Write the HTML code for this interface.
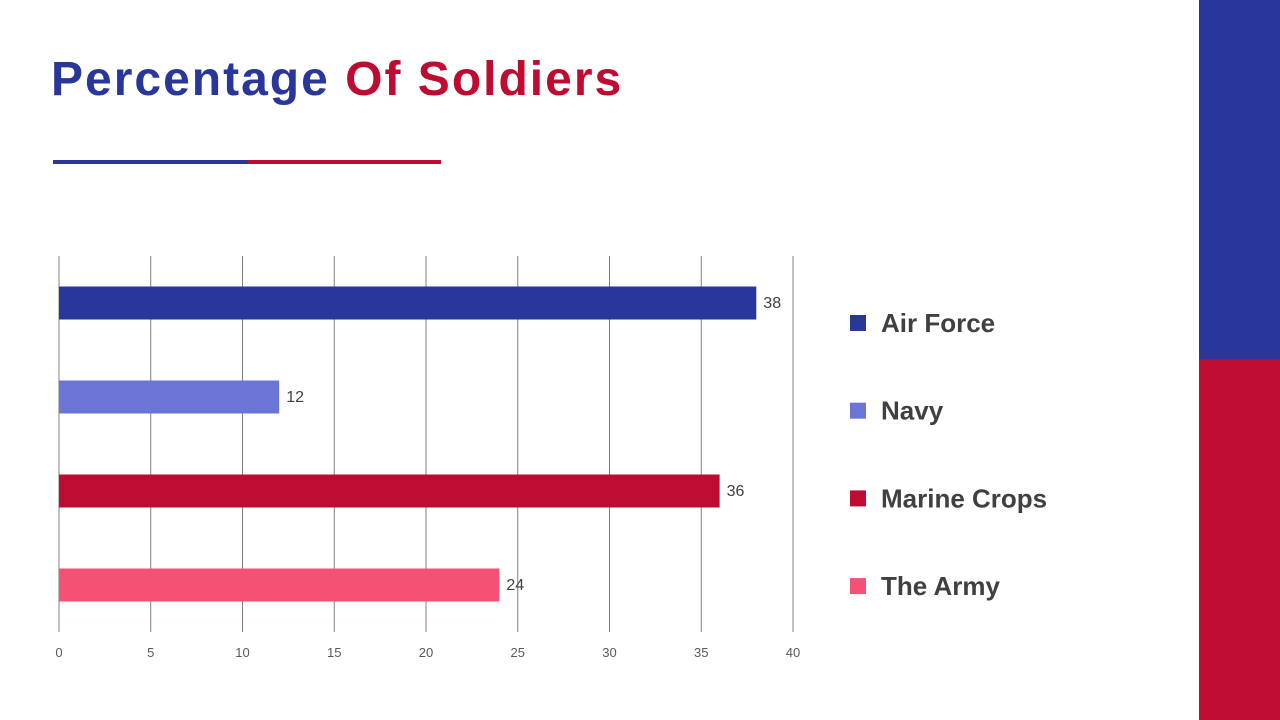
<!DOCTYPE html>
<html><head><meta charset="utf-8"><style>
body{margin:0;width:1280px;height:720px;background:#fff;position:relative;overflow:hidden;font-family:"Liberation Sans",sans-serif}
.abs{position:absolute}
</style></head><body>
<div class="abs" style="left:51px;top:52px;font-size:48px;font-weight:bold;letter-spacing:2px;white-space:nowrap"><span style="color:#29369A">Percentage</span> <span style="color:#BE0B31">Of Soldiers</span></div>
<div class="abs" style="left:53px;top:160px;width:195px;height:4px;background:#29369A"></div>
<div class="abs" style="left:248px;top:160px;width:193px;height:4px;background:#BE0B31"></div>
<div class="abs" style="left:1199px;top:0;width:81px;height:359px;background:#29369A"></div>
<div class="abs" style="left:1199px;top:359px;width:81px;height:361px;background:#BE0B31"></div>
<svg class="abs" style="left:0;top:0" width="1280" height="720" id="chart"></svg>
<script>
const categories=["Air Force","Navy","Marine Crops","The Army"];
const values=[38,12,36,24];
const colors=["#29369A","#6B75D6","#BE0B31","#F55174"];
const ticks=[0,5,10,15,20,25,30,35,40];
const NS="http://www.w3.org/2000/svg";
const svg=document.getElementById("chart");
const x0=59,x1=793,yTop=256,yBot=632;
const xs=v=>x0+(v-0)/40*(x1-x0);
const band=(yBot-yTop)/categories.length;
function mk(t,a){const e=document.createElementNS(NS,t);for(const k in a)e.setAttribute(k,a[k]);svg.appendChild(e);return e;}
ticks.forEach(t=>{
 const g=mk("line",{x1:xs(t),x2:xs(t),y1:yTop,y2:yBot,stroke:"#808080","stroke-width":1});
 
 
 const l=mk("text",{x:xs(t),y:657,"text-anchor":"middle","font-size":13,fill:"#595959","font-family":"Liberation Sans"});
 l.textContent=t;
 
 
});
categories.forEach((c,i)=>{
 const cy=yTop+band*(i+0.5);
 const b=mk("rect",{x:xs(0),y:cy-16.5,width:xs(values[i])-xs(0),height:33,fill:colors[i]});
 
 
 const v=mk("text",{x:xs(values[i])+7,y:cy+5,"font-size":16,fill:"#404040","font-family":"Liberation Sans"});
 v.textContent=values[i];
 
 
 const ly=323+i*87.7;
 const s=mk("rect",{x:850,y:ly-8,width:16,height:16,fill:colors[i]});
 
 
 const t=mk("text",{x:881,y:ly+9,"font-size":26,"font-weight":"bold",fill:"#404040","font-family":"Liberation Sans"});
 t.textContent=c;
 
 
});
</script>
</body></html>
